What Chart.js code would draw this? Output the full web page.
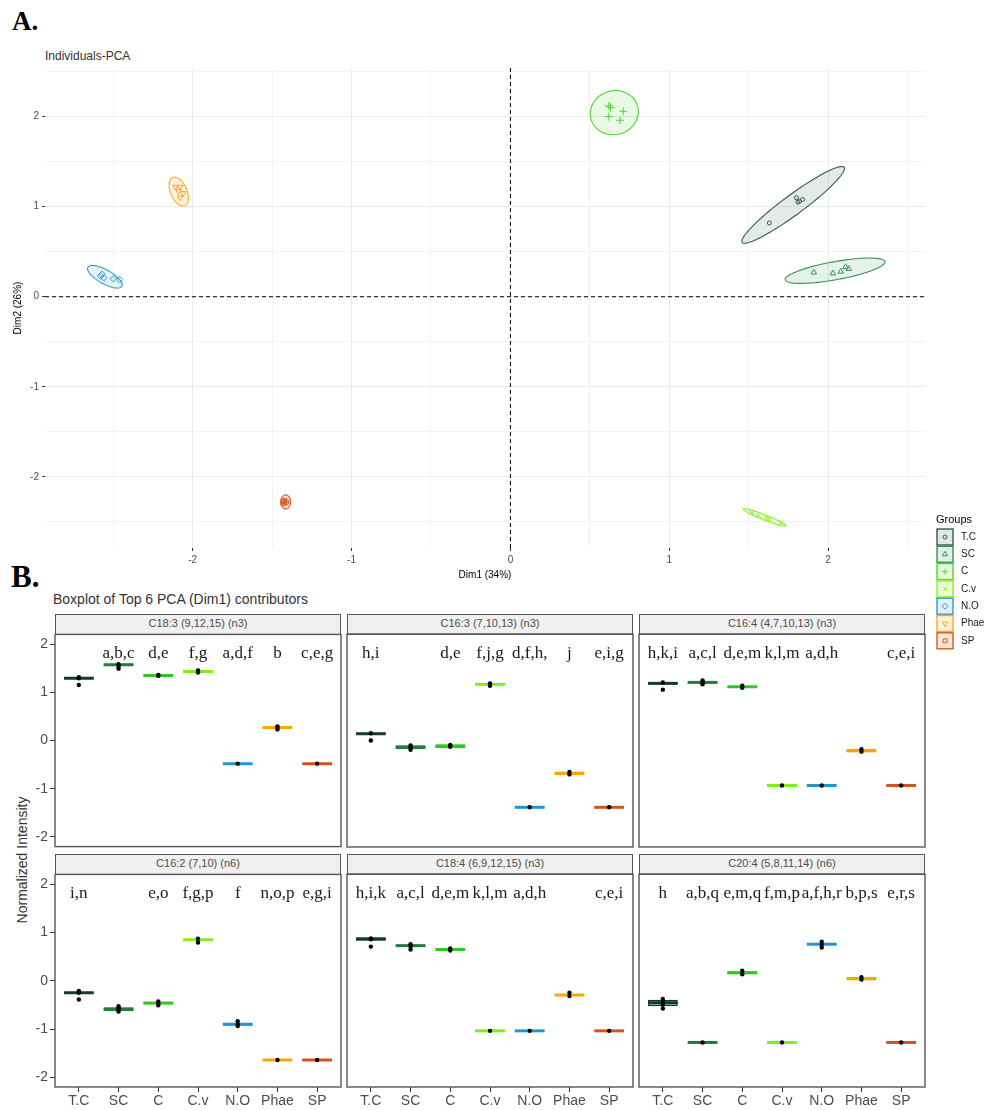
<!DOCTYPE html>
<html>
<head>
<meta charset="utf-8">
<script src="https://cdn.jsdelivr.net/npm/chart.js@4.4.1/dist/chart.umd.min.js"></script>
<style>
  body { margin: 0; background: #fff; }
  #page { position: relative; width: 984px; height: 1110px; overflow: hidden; font-family: "Liberation Sans", Arial, sans-serif; }
  canvas { position: absolute; }
  .lbl { position: absolute; white-space: nowrap; }
  .big { font-family: "Liberation Serif", "Times New Roman", serif; font-weight: bold; color: #000; }
  .strip { position: absolute; box-sizing: border-box; border: 1.4px solid #555; background: #f0f0f0;
           font-size: 11px; color: #4d4d4d; text-align: center; line-height: 17px; }
</style>
</head>
<body>
<div id="page">
  <div class="lbl big" style="left:12px;top:6px;font-size:27px;">A.</div>
  <div class="lbl" style="left:45px;top:49px;font-size:12px;color:#333;">Individuals-PCA</div>
  <div class="lbl big" style="left:11px;top:559px;font-size:31px;">B.</div>
  <div class="lbl" style="left:53px;top:591px;font-size:14px;color:#333;">Boxplot of Top 6 PCA (Dim1) contributors</div>
  <div class="lbl" style="left:22px;top:860px;font-size:14px;color:#333;transform:translate(-50%,-50%) rotate(-90deg);">Normalized Intensity</div>
  <canvas id="pca" width="984" height="620" style="left:0;top:40px;"></canvas>
</div>
<script>
// ================= PCA DATA =================
const groups = ["T.C", "SC", "C", "C.v", "N.O", "Phae", "SP"];

const pcaX = [
  [1.63, 1.82, 1.80, 1.84, 1.81],
  [1.91, 2.03, 2.08, 2.11, 2.13],
  [0.62, 0.63, 0.71, 0.62, 0.69],
  [1.52, 1.56, 1.61, 1.63, 1.70],
  [-2.58, -2.57, -2.56, -2.50, -2.46],
  [-2.11, -2.08, -2.09, -2.06, -2.08],
  [-1.43, -1.42, -1.41, -1.43, -1.42]
];
const pcaY = [
  [0.82, 1.06, 1.10, 1.08, 1.05],
  [0.27, 0.26, 0.28, 0.33, 0.31],
  [2.12, 2.10, 2.06, 2.00, 1.96],
  [-2.40, -2.43, -2.46, -2.47, -2.51],
  [0.23, 0.25, 0.21, 0.20, 0.19],
  [1.22, 1.22, 1.17, 1.15, 1.10],
  [-2.27, -2.29, -2.28, -2.30, -2.26]
];

// confidence ellipses: centre + two conjugate semi-axes (Dim units)
const ellCx = [1.78, 2.044, 0.654, 1.60, -2.553, -2.088, -1.415];
const ellCy = [1.02, 0.289, 2.044, -2.45, 0.222, 1.167, -2.278];
const ellU = [[0.321, 0.417], [0.314, 0.10], [0.15, -0.02], [0.135, -0.094], [0.107, -0.106], [0.038, -0.156], [0.031, 0.0]];
const ellV = [[0.037, -0.089], [0.01, -0.099], [0.02, 0.245], [-0.006, -0.026], [-0.021, -0.068], [0.047, 0.036], [0.0, 0.078]];

const dimTicks = [-2.5, -2, -1.5, -1, -0.5, 0, 0.5, 1, 1.5, 2, 2.5];

// ================= BOXPLOT DATA =================
const panelTitles = [
  "C18:3 (9,12,15) (n3)", "C16:3 (7,10,13) (n3)", "C16:4 (4,7,10,13) (n3)",
  "C16:2 (7,10) (n6)", "C18:4 (6,9,12,15) (n3)", "C20:4 (5,8,11,14) (n6)"
];
const panelLetters = [
  ["", "a,b,c", "d,e", "f,g", "a,d,f", "b", "c,e,g"],
  ["h,i", "", "d,e", "f,j,g", "d,f,h,", "j", "e,i,g"],
  ["h,k,i", "a,c,l", "d,e,m", "k,l,m", "a,d,h", "", "c,e,i"],
  ["i,n", "", "e,o", "f,g,p", "f", "n,o,p", "e,g,i"],
  ["h,i,k", "a,c,l", "d,e,m", "k,l,m", "a,d,h", "", "c,e,i"],
  ["h", "a,b,q", "e,m,q", "f,m,p", "a,f,h,r", "b,p,s", "e,r,s"]
];
const boxMed = [
  [1.29, 1.57, 1.35, 1.43, -0.48, 0.27, -0.48],
  [0.14, -0.14, -0.12, 1.16, -1.38, -0.68, -1.38],
  [1.18, 1.20, 1.11, -0.93, -0.93, -0.21, -0.93],
  [-0.25, -0.59, -0.46, 0.85, -0.90, -1.64, -1.64],
  [0.86, 0.72, 0.64, -1.04, -1.04, -0.30, -1.04],
  [-0.46, -1.28, 0.16, -1.28, 0.75, 0.04, -1.28]
];
const boxLo = [
  [1.27, 1.55, 1.33, 1.41, -0.49, 0.25, -0.49],
  [0.12, -0.18, -0.16, 1.14, -1.39, -0.72, -1.39],
  [1.17, 1.18, 1.09, -0.94, -0.94, -0.25, -0.94],
  [-0.26, -0.63, -0.49, 0.84, -0.93, -1.65, -1.65],
  [0.82, 0.70, 0.62, -1.05, -1.05, -0.32, -1.05],
  [-0.53, -1.29, 0.13, -1.29, 0.73, 0.00, -1.29]
];
const boxHi = [
  [1.31, 1.59, 1.37, 1.45, -0.47, 0.29, -0.47],
  [0.15, -0.10, -0.08, 1.18, -1.37, -0.64, -1.37],
  [1.20, 1.23, 1.13, -0.92, -0.92, -0.17, -0.92],
  [-0.24, -0.55, -0.44, 0.86, -0.88, -1.63, -1.63],
  [0.89, 0.74, 0.66, -1.03, -1.03, -0.28, -1.03],
  [-0.40, -1.27, 0.19, -1.27, 0.77, 0.07, -1.27]
];
const boxPts = [
  [[1.31, 1.29, 1.15], [1.58, 1.53, 1.49], [1.36, 1.34], [1.45, 1.41], [-0.48], [0.29, 0.26, 0.23], [-0.48]],
  [[0.15, 0.0], [-0.10, -0.14, -0.19], [-0.09, -0.13], [1.18, 1.13], [-1.38], [-0.65, -0.70], [-1.38]],
  [[1.20, 1.05], [1.24, 1.20, 1.16], [1.13, 1.09], [-0.93], [-0.93], [-0.18, -0.23], [-0.93]],
  [[-0.21, -0.25, -0.39], [-0.53, -0.57, -0.61, -0.64], [-0.43, -0.47, -0.51], [0.87, 0.79], [-0.84, -0.90, -0.94], [-1.64], [-1.64]],
  [[0.87, 0.85, 0.70], [0.75, 0.71, 0.64], [0.66, 0.62], [-1.04], [-1.04], [-0.25, -0.32], [-1.04]],
  [[-0.38, -0.45, -0.50, -0.58], [-1.28], [0.20, 0.13], [-1.28], [0.80, 0.74, 0.68], [0.07, 0.02], [-1.28]]
];
const intensityTicks = [-2, -1, 0, 1, 2];
const letterY = 1.8;

// ================= STYLES =================
const pcaColors = ["#2F5E4E", "#3A8F5C", "#4ED62A", "#86F51C", "#2F9AD0", "#FFA816", "#D9581C"];
const pcaShapes = ["circle", "triangle", "cross", "crossRot", "rectRot", "triangle", "rect"];
const pcaRot = [0, 0, 0, 0, 0, 180, 0];
const pcaRadius = [2, 3.2, 4, 3.5, 3.2, 3.2, 2.8];
const boxColors = ["#0F3D27", "#1E7E3C", "#2DC91F", "#7CF01A", "#1F96D3", "#FFA500", "#D4531C"];

function alpha(hex, a) {
  const n = parseInt(hex.slice(1), 16);
  return `rgba(${n >> 16},${(n >> 8) & 255},${n & 255},${a})`;
}

const FONT = "'Liberation Sans', Arial, sans-serif";
Chart.defaults.font.family = FONT;

// ================= PCA CHART =================
const pcaExtras = {
  id: "pcaExtras",
  beforeDatasetsDraw(chart) {
    const { ctx, chartArea: a, scales: { x, y } } = chart;
    ctx.save();
    // ellipses
    groups.forEach((g, i) => {
      ctx.beginPath();
      for (let k = 0; k <= 90; k++) {
        const t = (k / 90) * Math.PI * 2;
        const vx = ellCx[i] + ellU[i][0] * Math.cos(t) + ellV[i][0] * Math.sin(t);
        const vy = ellCy[i] + ellU[i][1] * Math.cos(t) + ellV[i][1] * Math.sin(t);
        const px = x.getPixelForValue(vx), py = y.getPixelForValue(vy);
        if (k === 0) ctx.moveTo(px, py); else ctx.lineTo(px, py);
      }
      ctx.closePath();
      ctx.fillStyle = alpha(pcaColors[i], 0.13);
      ctx.fill();
      ctx.strokeStyle = pcaColors[i];
      ctx.lineWidth = 1.1;
      ctx.stroke();
    });
    // dashed zero lines
    ctx.setLineDash([4, 3]);
    ctx.strokeStyle = "#000";
    ctx.lineWidth = 1;
    const x0 = x.getPixelForValue(0), y0 = y.getPixelForValue(0);
    ctx.beginPath();
    ctx.moveTo(x0, a.top); ctx.lineTo(x0, a.bottom);
    ctx.moveTo(a.left, y0); ctx.lineTo(a.right, y0);
    ctx.stroke();
    ctx.restore();
  },
  afterDraw(chart) {
    // legend "Groups"
    const ctx = chart.ctx;
    ctx.save();
    ctx.fillStyle = "#000";
    ctx.font = "11px " + FONT;
    ctx.textBaseline = "middle";
    ctx.fillText("Groups", 936, 480);
    groups.forEach((g, i) => {
      const top = 489 + i * 17.3;
      ctx.fillStyle = alpha(pcaColors[i], 0.15);
      ctx.fillRect(937, top, 16, 16);
      ctx.strokeStyle = pcaColors[i];
      ctx.lineWidth = 1.4;
      ctx.strokeRect(937, top, 16, 16);
      ctx.fillStyle = "rgba(0,0,0,0)";
      ctx.lineWidth = 1;
      Chart.helpers.drawPoint(ctx, {
        pointStyle: pcaShapes[i], radius: Math.min(pcaRadius[i], 3), rotation: pcaRot[i], borderWidth: 1
      }, 945, top + 8);
      ctx.fillStyle = "#1a1a1a";
      ctx.font = "10px " + FONT;
      ctx.fillText(g, 961, top + 8);
    });
    ctx.restore();
  }
};

new Chart(document.getElementById("pca"), {
  type: "scatter",
  data: {
    datasets: groups.map((g, i) => ({
      label: g,
      data: pcaX[i].map((v, k) => ({ x: v, y: pcaY[i][k] })),
      pointStyle: pcaShapes[i],
      rotation: pcaRot[i],
      pointRadius: pcaRadius[i],
      borderColor: pcaColors[i],
      backgroundColor: "rgba(0,0,0,0)",
      borderWidth: 1
    }))
  },
  options: {
    responsive: false,
    animation: false,
    events: [],
    layout: { autoPadding: false, padding: { left: 10, right: 59, top: 28, bottom: 76 } },
    plugins: { legend: { display: false }, tooltip: { enabled: false } },
    scales: {
      x: {
        min: -2.93, max: 2.61,
        afterBuildTicks: s => { s.ticks = dimTicks.map(v => ({ value: v })); },
        afterFit: s => { s.height = 36; },
        ticks: { callback: v => (Number.isInteger(v) ? v : ""), font: { size: 10 }, color: "#4d4d4d", padding: 3, maxRotation: 0, autoSkip: false },
        grid: {
          color: c => (Number.isInteger(c.tick.value) ? "#ebebeb" : "#f3f3f3"),
          tickColor: c => (Number.isInteger(c.tick.value) ? "#333" : "rgba(0,0,0,0)"),
          tickLength: 3
        },
        border: { display: false },
        title: { display: true, text: "Dim1 (34%)", font: { size: 10 }, color: "#000", padding: { top: 2, bottom: 3 } }
      },
      y: {
        min: -2.79, max: 2.54,
        afterBuildTicks: s => { s.ticks = dimTicks.map(v => ({ value: v })); },
        afterFit: s => { s.width = 35; },
        ticks: { callback: v => (Number.isInteger(v) ? v : ""), font: { size: 10 }, color: "#4d4d4d", padding: 3 },
        grid: {
          color: c => (Number.isInteger(c.tick.value) ? "#ebebeb" : "#f3f3f3"),
          tickColor: c => (Number.isInteger(c.tick.value) ? "#333" : "rgba(0,0,0,0)"),
          tickLength: 3
        },
        border: { display: false },
        title: { display: true, text: "Dim2 (26%)", font: { size: 10 }, color: "#000", padding: { top: 2, bottom: 2 } }
      }
    }
  },
  plugins: [pcaExtras]
});

// ================= BOXPLOT PANELS =================
const colLeft = [55, 347, 639];
const panelW = 286;
const rowTop = [634, 874];
const panelH = 213;
const stripH = 20;
const PAD = 10;

const panelDeco = {
  id: "panelDeco",
  afterDatasetsDraw(chart) {
    const p = chart.options.panelIndex;
    const { ctx, chartArea: a, scales: { x, y } } = chart;
    ctx.save();
    ctx.fillStyle = "#1a1a1a";
    ctx.font = "17px 'Liberation Serif', 'Times New Roman', serif";
    ctx.textAlign = "center";
    ctx.textBaseline = "middle";
    panelLetters[p].forEach((t, i) => {
      ctx.fillText(t, x.getPixelForValue(i), y.getPixelForValue(letterY));
    });
    ctx.strokeStyle = "#555";
    ctx.lineWidth = 1.4;
    ctx.strokeRect(a.left, a.top, a.right - a.left, a.bottom - a.top);
    ctx.restore();
  }
};

const page = document.getElementById("page");

panelTitles.forEach((title, p) => {
  const row = Math.floor(p / 3), col = p % 3;
  const axisW = col === 0 ? 30 : 0;
  const padL = col === 0 ? 0 : 2;
  const axisH = row === 1 ? 24 : 0;
  const left = colLeft[col] - axisW - padL;
  const top = rowTop[row] - PAD;
  const w = axisW + padL + panelW + 2;
  const h = PAD + panelH + axisH + PAD;

  const strip = document.createElement("div");
  strip.className = "strip";
  strip.style.left = colLeft[col] + "px";
  strip.style.top = (rowTop[row] - stripH) + "px";
  strip.style.width = panelW + "px";
  strip.style.height = (stripH + 1) + "px";
  strip.textContent = title;
  page.appendChild(strip);

  const cv = document.createElement("canvas");
  cv.width = w; cv.height = h;
  cv.style.left = left + "px";
  cv.style.top = top + "px";
  page.appendChild(cv);

  const pts = [];
  boxPts[p].forEach((list, i) => list.forEach(v => pts.push({ x: i, y: v })));

  new Chart(cv, {
    type: "bar",
    data: {
      datasets: [
        {
          type: "bar",
          data: groups.map((g, i) => ({ x: i, y: [boxLo[p][i], boxHi[p][i]] })),
          backgroundColor: boxColors.map(c => alpha(c, 0.35)),
          borderColor: boxColors,
          borderWidth: 1.2,
          borderSkipped: false,
          categoryPercentage: 1,
          barPercentage: 0.75,
          order: 3
        },
        {
          type: "scatter",
          data: groups.map((g, i) => ({ x: i, y: boxMed[p][i] })),
          pointStyle: "line",
          pointRadius: 14.9,
          pointBorderWidth: 3,
          pointBorderColor: boxColors,
          order: 2
        },
        {
          type: "scatter",
          data: pts,
          pointRadius: 2.2,
          pointBackgroundColor: "#000",
          pointBorderWidth: 0,
          order: 1
        }
      ]
    },
    options: {
      panelIndex: p,
      responsive: false,
      animation: false,
      events: [],
      layout: { autoPadding: false, padding: { left: padL, right: 2, top: PAD, bottom: PAD } },
      plugins: { legend: { display: false }, tooltip: { enabled: false } },
      scales: {
        x: {
          type: "linear",
          offset: false,
          min: -0.6, max: 6.6,
          display: row === 1,
          afterBuildTicks: s => { s.ticks = groups.map((g, i) => ({ value: i })); },
          afterFit: s => { s.height = axisH; },
          ticks: { callback: v => groups[v], font: { size: 14 }, color: "#4d4d4d", padding: 1, maxRotation: 0, autoSkip: false },
          grid: { offset: false, drawOnChartArea: false, tickLength: 5, tickColor: "#333" },
          border: { display: false }
        },
        y: {
          min: -2.2, max: 2.2,
          display: col === 0,
          afterBuildTicks: s => { s.ticks = intensityTicks.map(v => ({ value: v })); },
          afterFit: s => { s.width = axisW; },
          ticks: { font: { size: 14 }, color: "#4d4d4d", padding: 2 },
          grid: { drawOnChartArea: false, tickLength: 5, tickColor: "#333" },
          border: { display: false }
        }
      }
    },
    plugins: [panelDeco]
  });
});
</script>
</body>
</html>
